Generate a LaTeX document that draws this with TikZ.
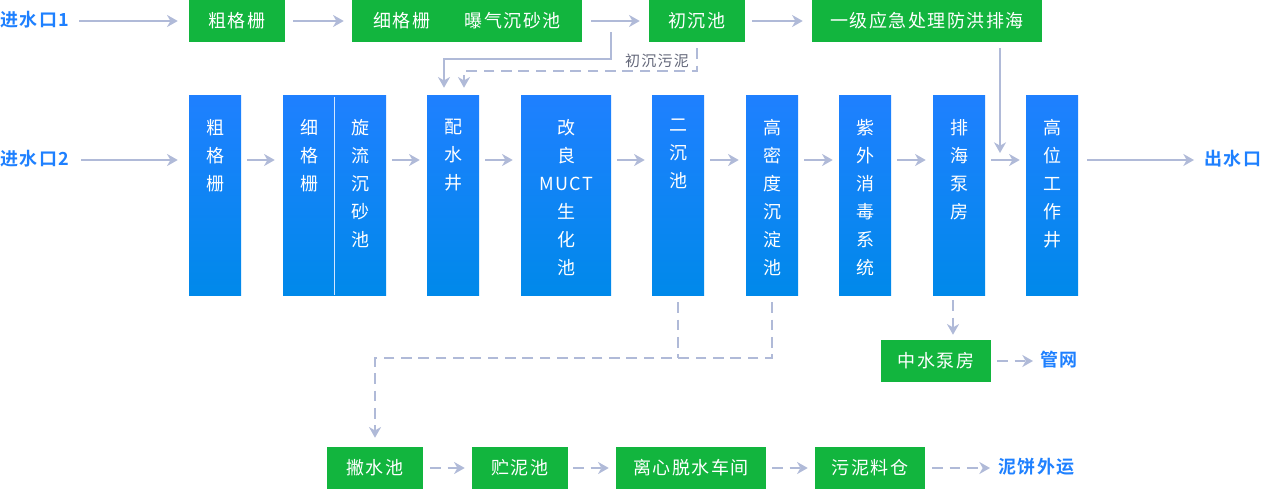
\documentclass[tikz,border=0pt]{standalone}
\usepackage{fontspec}
\setmainfont{Noto Sans CJK SC}[BoldFont={Noto Sans CJK SC Bold}, LetterSpace=8]
\usetikzlibrary{arrows.meta,fit}
\definecolor{gfill}{RGB}{18,181,62}
\definecolor{btop}{RGB}{31,128,255}
\definecolor{bbot}{RGB}{0,137,234}
\definecolor{lnc}{RGB}{176,186,216}
\definecolor{lblue}{RGB}{30,128,255}
\definecolor{lgray}{RGB}{100,104,122}
\begin{document}
\begin{tikzpicture}[x=0.75pt,y=-0.75pt,
  gbox/.style={fill=gfill, text=white, inner sep=0pt, minimum height=31.5pt, minimum width=#1, text height=1.16em, text depth=0.2em, font=\fontsize{13.5pt}{16pt}\selectfont},
  bbox/.style={top color=btop, bottom color=bbot, inner sep=0pt},
  vtxt/.style={text=white, inner sep=0pt, align=center, anchor=north, font=\fontsize{13.5pt}{21pt}\selectfont},
  blab/.style={text=lblue, inner sep=0pt, anchor=west, text height=1.06em, text depth=0.2em, font=\bfseries\fontsize{13.5pt}{16pt}\selectfont},
  glab/.style={text=lgray, inner sep=0pt, text height=1.1em, text depth=0.2em, font=\fontsize{11.25pt}{13pt}\selectfont},
  arr/.style={draw=lnc, line width=1.7pt, -{Stealth[length=8pt,width=9pt,inset=2.5pt]}},
  darr/.style={arr, dash pattern=on 8pt off 5pt},
  dln/.style={draw=lnc, line width=1.7pt, dash pattern=on 8pt off 5pt},
  divl/.style={draw=white!80!btop, line width=0.8pt}
]
\useasboundingbox (0,0) rectangle (1262,489);
\coordinate (r2) at (0,160);
% top row
\node[blab] (t1) at (0,21) {进水口1};
\node[gbox=72pt] (g1) at (237,21) {粗格栅};
\node[gbox=172.5pt] (g2) at (467,21) {细格栅\hspace{26pt}曝气沉砂池};
\node[gbox=72pt] (g3) at (697,21) {初沉池};
\node[gbox=172.5pt] (g4) at (927,21) {一级应急处理防洪排海};
\node[glab] (lab1) at (657,60) {初沉污泥};
% row 2
\node[blab] (t2) at (0,160) {进水口2};
\node[bbox, fit={(189,95) (241,295)}] (b1) {};
\node[bbox, fit={(283,95) (386,295)}] (b2) {};
\node[bbox, fit={(427,95) (479,295)}] (b3) {};
\node[bbox, fit={(521,95) (611,295)}] (b4) {};
\node[bbox, fit={(652,95) (704,295)}] (b5) {};
\node[bbox, fit={(746,95) (798,295)}] (b6) {};
\node[bbox, fit={(839,95) (891,295)}] (b7) {};
\node[bbox, fit={(933,95) (985,295)}] (b8) {};
\node[bbox, fit={(1026,95) (1078,295)}] (b9) {};
\draw[divl] ([yshift=-1.5pt]b2.north) -- (b2.south);
\node[vtxt] (b1t) at (215,119) {粗\\格\\栅};
\node[vtxt] (b2t) at (309,119) {细\\格\\栅};
\node[vtxt] (b2u) at (360.5,119) {旋\\流\\沉\\砂\\池};
\node[vtxt] (b3t) at (453,119) {配\\水\\井};
\node[vtxt] (b4t) at (566,119) {改\\良\\MUCT\\生\\化\\池};
\node[vtxt] (b5t) at (678,119) {二\\沉\\池};
\node[vtxt] (b6t) at (772,119) {高\\密\\度\\沉\\淀\\池};
\node[vtxt] (b7t) at (865,119) {紫\\外\\消\\毒\\系\\统};
\node[vtxt] (b8t) at (959,119) {排\\海\\泵\\房};
\node[vtxt] (b9t) at (1052,119) {高\\位\\工\\作\\井};
\node[blab] (out) at (1204,160) {出水口};
% lower
\node[gbox=82.5pt] (m1) at (936,361) {中水泵房};
\node[blab] (gw) at (1040,361) {管网};
\node[gbox=72pt] (s1) at (375,468) {撇水池};
\node[gbox=72pt] (s2) at (520,468) {贮泥池};
\node[gbox=112.5pt] (s3) at (691,468) {离心脱水车间};
\node[gbox=82.5pt] (s4) at (870,468) {污泥料仓};
\node[blab] (nb) at (998,468) {泥饼外运};
% connectors top
\draw[arr, shorten <=7.5pt, shorten >=8.25pt] (t1) -- (g1);
\draw[arr, shorten <=6pt, shorten >=6pt] (g1) -- (g2);
\draw[arr, shorten <=6.75pt, shorten >=6.75pt] (g2) -- (g3);
\draw[arr, shorten <=5.25pt, shorten >=6.75pt] (g3) -- (g4);
\coordinate (c1) at (611,32);
\coordinate (c1b) at (444,59);
\draw[arr, shorten >=5.25pt] (c1) |- (c1b) -- (c1b |- b3.north);
\coordinate (c2b) at (464,71);
\draw[darr, shorten <=4.5pt, shorten >=5.25pt] (g3.south) |- (c2b) -- (c2b |- b3.north);
\coordinate (c3) at (1000,153);
\draw[arr, shorten <=4.5pt] (g4.south -| c3) -- (c3);
% row 2 connectors
\draw[arr, shorten <=9pt, shorten >=8.25pt] (t2.east) -- (t2.east -| b1.west);
\draw[arr, shorten <=4.5pt, shorten >=6pt] (b1.east |- r2) -- (b2.west |- r2);
\draw[arr, shorten <=4.5pt, shorten >=5.25pt] (b2.east |- r2) -- (b3.west |- r2);
\draw[arr, shorten <=4.5pt, shorten >=6pt] (b3.east |- r2) -- (b4.west |- r2);
\draw[arr, shorten <=4.5pt, shorten >=5.25pt] (b4.east |- r2) -- (b5.west |- r2);
\draw[arr, shorten <=4.5pt, shorten >=5.25pt] (b5.east |- r2) -- (b6.west |- r2);
\draw[arr, shorten <=4.5pt, shorten >=4.5pt] (b6.east |- r2) -- (b7.west |- r2);
\draw[arr, shorten <=4.5pt, shorten >=5.25pt] (b7.east |- r2) -- (b8.west |- r2);
\draw[arr, shorten <=4.5pt, shorten >=4.5pt] (b8.east |- r2) -- (b9.west |- r2);
\draw[arr, shorten <=6.75pt, shorten >=7.5pt] (b9.east |- r2) -- (out.west);
% sludge
\coordinate (c4) at (772,358);
\draw[dln, shorten <=5.25pt] (b5.south) -- (b5.south |- c4);
\draw[darr, shorten <=5.25pt, shorten >=6.75pt] (b6.south) -- (c4) -| (s1.north);
\coordinate (c5) at (953,300);
\draw[darr, shorten <=3.75pt, shorten >=3.75pt] (b8.south -| c5) -- (m1.north -| c5);
\draw[darr, shorten <=4.5pt, shorten >=5.25pt] (m1) -- (gw);
\draw[darr, shorten <=5.25pt, shorten >=5.25pt] (s1) -- (s2);
\draw[darr, shorten <=3.75pt, shorten >=5.25pt] (s2) -- (s3);
\draw[darr, shorten <=4.5pt, shorten >=5.25pt] (s3) -- (s4);
\draw[darr, shorten <=5.25pt, shorten >=6pt] (s4) -- (nb);
\end{tikzpicture}
\end{document}
